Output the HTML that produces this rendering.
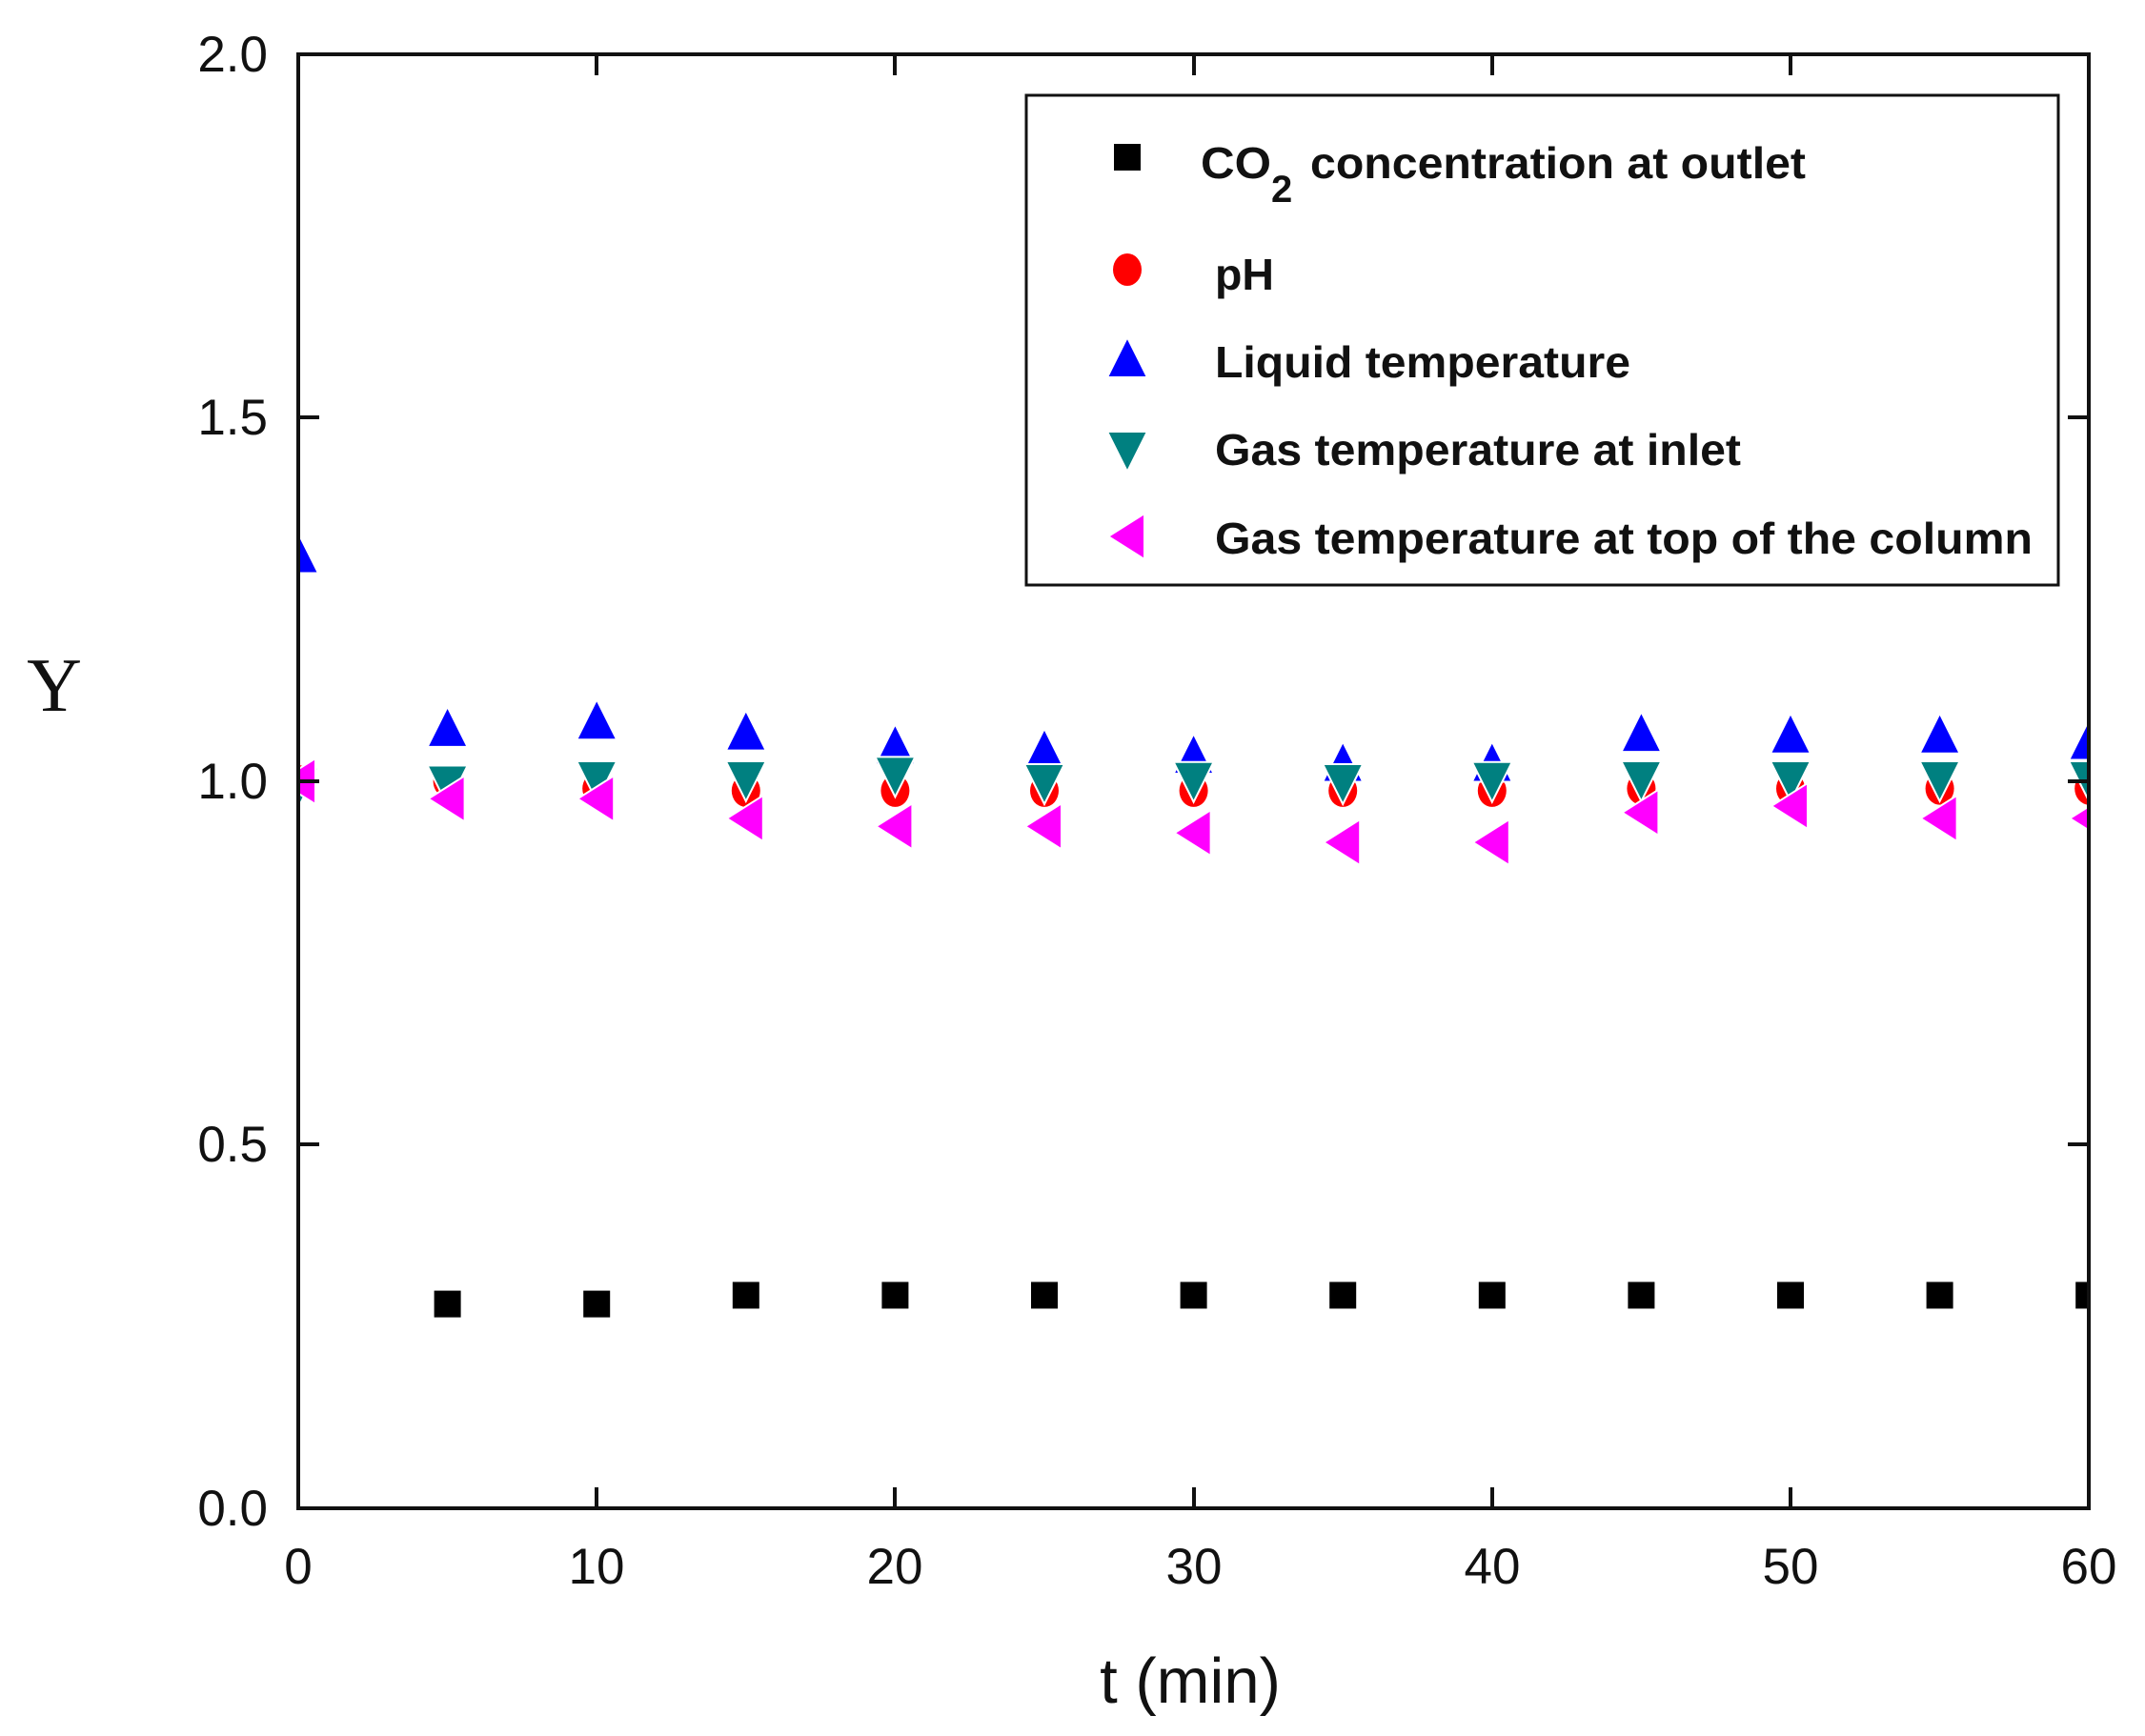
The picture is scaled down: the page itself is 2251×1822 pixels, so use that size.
<!DOCTYPE html>
<html><head><meta charset="utf-8"><style>
html,body{margin:0;padding:0;background:#fff;width:2251px;height:1822px;overflow:hidden}
svg{display:block}
</style></head><body>
<svg id="s" xmlns="http://www.w3.org/2000/svg" width="2251" height="1822" viewBox="0 0 2251 1822">
<defs><clipPath id="c"><rect x="313" y="57" width="1879" height="1526"/></clipPath></defs>
<g id="m" clip-path="url(#c)"></g>
<g stroke="#111" stroke-width="4" fill="none">
<rect x="313" y="57" width="1879" height="1526"/>
<path d="M626,1583v-22M939,1583v-22M1253,1583v-22M1566,1583v-22M1879,1583v-22
M626,57v22M939,57v22M1253,57v22M1566,57v22M1879,57v22
M313,1201h22M313,820h22M313,438h22
M2192,1201h-22M2192,820h-22M2192,438h-22"/>
</g>
<g font-family="Liberation Sans, Arial, sans-serif" font-size="53" fill="#111">
<g text-anchor="end">
<text x="281" y="1601">0.0</text>
<text x="281" y="1219">0.5</text>
<text x="281" y="838">1.0</text>
<text x="281" y="456">1.5</text>
<text x="281" y="75">2.0</text>
</g>
<g text-anchor="middle">
<text x="313" y="1662">0</text>
<text x="626" y="1662">10</text>
<text x="939" y="1662">20</text>
<text x="1253" y="1662">30</text>
<text x="1566" y="1662">40</text>
<text x="1879" y="1662">50</text>
<text x="2192" y="1662">60</text>
</g>
<text x="1249" y="1787" text-anchor="middle" font-size="67">t (min)</text>
</g>
<text x="57" y="746" text-anchor="middle" font-family="Liberation Serif, serif" font-size="80" fill="#111">Y</text>
<rect x="1077" y="100" width="1083" height="514" fill="#fff" stroke="#111" stroke-width="3"/>
<g font-family="Liberation Sans Narrow, Liberation Sans, sans-serif" font-weight="bold" font-size="46" fill="#111">
<text x="1260" y="187" textLength="74" lengthAdjust="spacingAndGlyphs">CO</text><text x="1334" y="212" font-size="40">2</text>
<text x="1375" y="187" textLength="520" lengthAdjust="spacingAndGlyphs">concentration at outlet</text>
<text x="1275" y="304" textLength="62" lengthAdjust="spacingAndGlyphs">pH</text>
<text x="1275" y="396" textLength="436" lengthAdjust="spacingAndGlyphs">Liquid temperature</text>
<text x="1275" y="488" textLength="552" lengthAdjust="spacingAndGlyphs">Gas temperature at inlet</text>
<text x="1275" y="581" textLength="858" lengthAdjust="spacingAndGlyphs">Gas temperature at top of the column</text>
</g>
<g id="lg"></g>
</svg>
<script>
var NS="http://www.w3.org/2000/svg";
function X(t){return 313+t*31.32}
function Y(v){return 1583-v*763}
function el(p,tag,a){var e=document.createElementNS(NS,tag);for(var k in a)e.setAttribute(k,a[k]);p.appendChild(e);return e}
function sq(p,x,y){el(p,'rect',{x:x-14,y:y-14,width:28,height:28,fill:'#000'})}
function ci(p,x,y){el(p,'ellipse',{cx:x,cy:y,rx:15,ry:17,fill:'#f00'})}
function up(p,x,y){el(p,'polygon',{points:(x-21)+','+(y+18)+' '+(x+21)+','+(y+18)+' '+x+','+(y-24),fill:'#00f',stroke:'#fff','stroke-width':2})}
function dn(p,x,y){el(p,'polygon',{points:(x-21)+','+(y-18)+' '+(x+21)+','+(y-18)+' '+x+','+(y+24),fill:'#008080',stroke:'#fff','stroke-width':2})}
function lf(p,x,y){el(p,'polygon',{points:(x+18)+','+(y-24)+' '+(x+18)+','+(y+24)+' '+(x-20)+','+y,fill:'#f0f',stroke:'#fff','stroke-width':2})}
var m=document.getElementById('m');
var T=[0,5,10,15,20,25,30,35,40,45,50,55,60];
var S=[1.0,0.281,0.281,0.293,0.293,0.293,0.293,0.293,0.293,0.293,0.293,0.293,0.293];
var P=[1.0,1.0,0.99,0.987,0.987,0.987,0.987,0.987,0.987,0.99,0.99,0.99,0.99];
var U=[1.31,1.071,1.081,1.066,1.047,1.041,1.034,1.023,1.023,1.064,1.062,1.062,1.053];
var D=[0.995,0.998,1.004,1.004,1.01,1.0,1.003,1.0,1.003,1.004,1.004,1.004,1.004];
var L=[1.0,0.976,0.976,0.949,0.938,0.938,0.929,0.916,0.916,0.957,0.966,0.949,0.949];
for(var i=0;i<T.length;i++){var x=X(T[i]);sq(m,x,Y(S[i]));ci(m,x,Y(P[i]));up(m,x,Y(U[i]));dn(m,x,Y(D[i]));lf(m,x,Y(L[i]));}
var g=document.getElementById('lg');
sq(g,1183,165);ci(g,1183,283);up(g,1183,378);dn(g,1183,471);lf(g,1183,563);
</script>
</body></html>
